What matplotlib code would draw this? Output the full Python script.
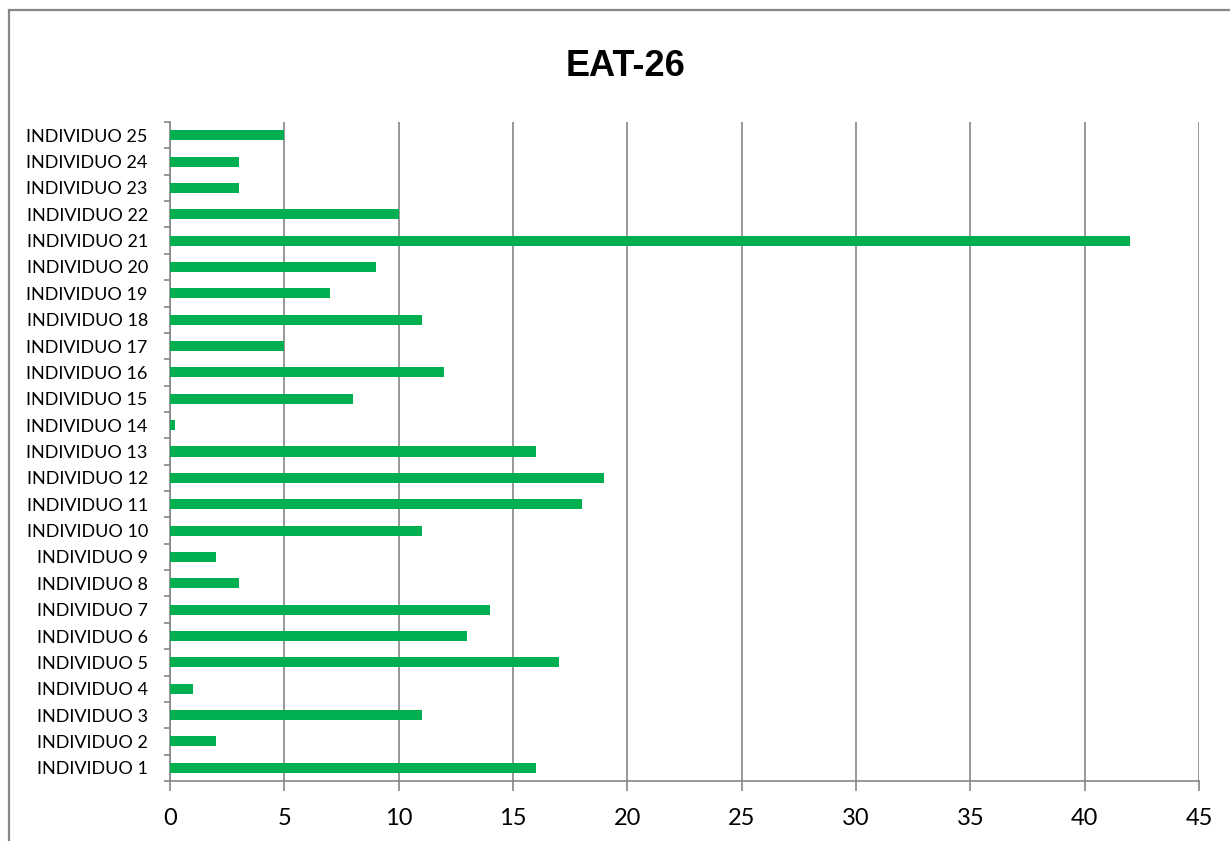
import matplotlib
matplotlib.use("Agg")
import matplotlib.pyplot as plt
from matplotlib.patches import Rectangle
import numpy as np

categories = [f"INDIVIDUO {i}" for i in range(1, 26)]
values = [16, 2, 11, 1, 17, 13, 14, 3, 2, 11, 18, 19, 16, 0.2, 8, 12, 5, 11, 7, 9, 42, 10, 3, 3, 5]
x_ticks = [0, 5, 10, 15, 20, 25, 30, 35, 40, 45]
title = "EAT-26"

W, H = 1230, 841
fig = plt.figure(figsize=(W / 100, H / 100), dpi=100)
ax = fig.add_axes([170 / W, (H - 781) / H, (1199 - 170) / W, (781 - 122) / H])

grey = "#868686"
y = np.arange(len(categories))
ax.barh(y, values, height=0.38, color="#00B050", zorder=3)

ax.set_xlim(0, 45)
ax.set_ylim(-0.5, len(categories) - 0.5)
ax.set_xticks(x_ticks)
ax.set_xticklabels([str(t) for t in x_ticks], fontsize=17, family="Lato")
ax.set_yticks(y)
ax.set_yticklabels(categories, fontsize=13, family="Lato")
ax.set_yticks(np.arange(-0.5, len(categories), 1), minor=True)

ax.tick_params(axis="y", which="major", length=0, pad=16)
ax.tick_params(axis="y", which="minor", length=4, width=1.2, color=grey, direction="out")
ax.tick_params(axis="x", which="major", length=7, width=1.2, color=grey, direction="out", pad=12.5)

ax.grid(axis="x", color=grey, linewidth=1.2, zorder=0)
ax.set_axisbelow(True)
for s in ["top", "right"]:
    ax.spines[s].set_visible(False)
for s in ["left", "bottom"]:
    ax.spines[s].set_color(grey)
    ax.spines[s].set_linewidth(1.2)

fig.text(626 / W, 1 - 66 / H, title, ha="center", va="center",
         fontsize=26, fontweight="bold", family="Liberation Sans")

border = Rectangle((9 / W, -0.1), 1.2, 1 - 10 / H + 0.1, transform=fig.transFigure,
                   fill=False, edgecolor="#878787", linewidth=1.6, clip_on=False)
fig.patches.append(border)

fig.savefig("out.png", dpi=100)
